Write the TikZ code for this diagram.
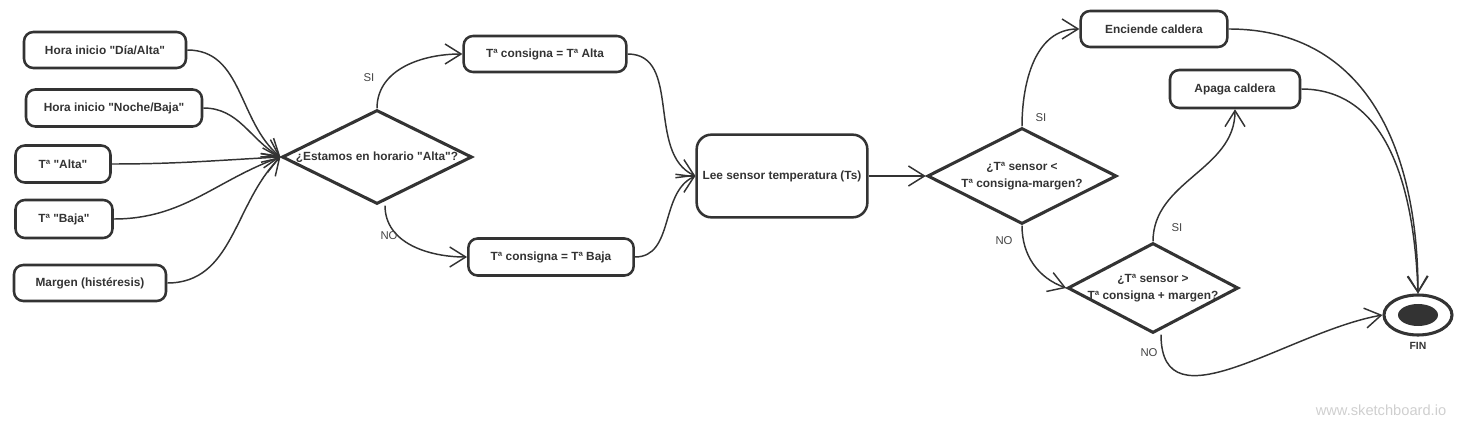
\documentclass[tikz,border=0pt]{standalone}
\usepackage{fontspec}
\setmainfont{Liberation Sans}[Ligatures=TeXOff]
\usetikzlibrary{arrows.meta,shapes.geometric}
\definecolor{inkc}{HTML}{333333}
\definecolor{labc}{HTML}{444444}
\definecolor{wmc}{HTML}{CFCFCF}
\begin{document}
\begin{tikzpicture}[x=0.75pt,y=-0.75pt,
  box/.style={draw=inkc, line width=1.9pt, rounded corners=7pt, font=\fontsize{8.9}{10}\selectfont\bfseries, text=inkc, inner sep=0pt},
  dia/.style={draw=inkc, diamond, line width=2.3pt, inner sep=0pt},
  dtext/.style={font=\fontsize{8.9}{13}\selectfont\bfseries, text=inkc, align=center, inner sep=0pt},
  conn/.style={draw=inkc, line width=1.1pt, -{Straight Barb[length=12pt,width=15pt]}},
  lab/.style={font=\fontsize{8.5}{10}\selectfont, text=labc, inner sep=0pt}]
\useasboundingbox (0,0) rectangle (1472,431);

% input boxes
\node[box, minimum width=121.5pt, minimum height=27pt] (h1) at (105,50) {Hora inicio "Día/Alta"};
\node[box, minimum width=132pt, minimum height=27.75pt] (h2) at (114,108) {Hora inicio "Noche/Baja"};
\node[box, minimum width=71.25pt, minimum height=27.75pt] (ta) at (63,164) {Tª "Alta"};
\node[box, minimum width=72.75pt, minimum height=28.5pt] (tb) at (64,219) {Tª "Baja"};
\node[box, minimum width=114pt, minimum height=27pt] (mg) at (90,283) {Margen (histéresis)};

% decision 1
\node[dia, minimum width=142.5pt, minimum height=70.5pt] (d1) at (377,157) {};
\node[dtext] (d1t) at (377,157) {¿Estamos en horario "Alta"?};

\node[box, minimum width=122pt, minimum height=27pt] (alta) at (545,54) {Tª consigna = Tª Alta};
\node[box, minimum width=124pt, minimum height=27.75pt] (baja) at (551,257) {Tª consigna = Tª Baja};

\node[box, rounded corners=11pt, minimum width=128pt, minimum height=62pt] (lee) at (782,176) {Lee sensor temperatura (Ts)};

% decision 2
\node[dia, minimum width=142pt, minimum height=72pt] (d2) at (1022,176) {};
\node[dtext] (d2t) at (1022,176) {¿Tª sensor <\\Tª consigna-margen?};

\node[box, minimum width=110pt, minimum height=27pt] (enc) at (1154,29) {Enciende caldera};
\node[box, minimum width=97.5pt, minimum height=28.5pt] (apa) at (1235,89) {Apaga caldera};

% decision 3
\node[dia, minimum width=128pt, minimum height=67.5pt] (d3) at (1153,288) {};
\node[dtext] (d3t) at (1153,288) {¿Tª sensor >\\Tª consigna + margen?};

% end
\node[draw=inkc, ellipse, line width=2.3pt, minimum width=51pt, minimum height=30pt, inner sep=0pt] (fin) at (1418,315) {};
\node[fill=inkc, ellipse, minimum width=30pt, minimum height=16.5pt, inner sep=0pt] (finc) at (1418,315) {};
\node[lab, font=\fontsize{7.8}{9}\selectfont\bfseries, text=inkc] (finl) at (1418,346) {FIN};

% connectors
\draw[conn] (h1.east) to[out=0, in=140] (d1.west);
\draw[conn] (h2.east) to[out=0, in=150] (d1.west);
\draw[conn] (ta.east) to[out=0, in=183] (d1.west);
\draw[conn] (tb.east) to[out=0, in=200] (d1.west);
\draw[conn] (mg.east) to[out=0, in=225] (d1.west);

\draw[conn] (d1.north) to[out=90, in=180] (alta.west);
\coordinate (d1s) at ([xshift=6pt]d1.south);
\draw[conn] (d1s) to[out=-90, in=180] (baja.west);
\draw[conn] (alta.east) to[out=0, in=155] (lee.west);
\draw[conn] (baja.east) to[out=0, in=205] (lee.west);
\draw[conn] (lee.east) -- (d2.west);

\draw[conn] (d2.north) to[out=90, in=180] (enc.west);
\draw[conn] (d2.south) to[out=-90, in=160] (d3.west);
\draw[conn] (d3.north) to[out=90, in=-90] (apa.south);
\coordinate (d3s) at ([xshift=6pt]d3.south);
\draw[conn] (d3s) to[out=-90, in=190, looseness=1.1] (fin.west);
\draw[conn] (enc.east) to[out=0, in=90, looseness=1.1] (fin.north);
\draw[conn] (apa.east) to[out=0, in=92] (fin.north);

% labels
\node[lab] (l1) at (369,78) {SI};
\node[lab] (l2) at (389,236) {NO};
\node[lab] (l3) at (1041,118) {SI};
\node[lab] (l4) at (1004,241) {NO};
\node[lab] (l5) at (1177,228) {SI};
\node[lab] (l6) at (1149,353) {NO};

\node[font=\fontsize{11}{13}\selectfont, text=wmc, inner sep=0pt] (wm) at (1381,410) {www.sketchboard.io};
\end{tikzpicture}
\end{document}
